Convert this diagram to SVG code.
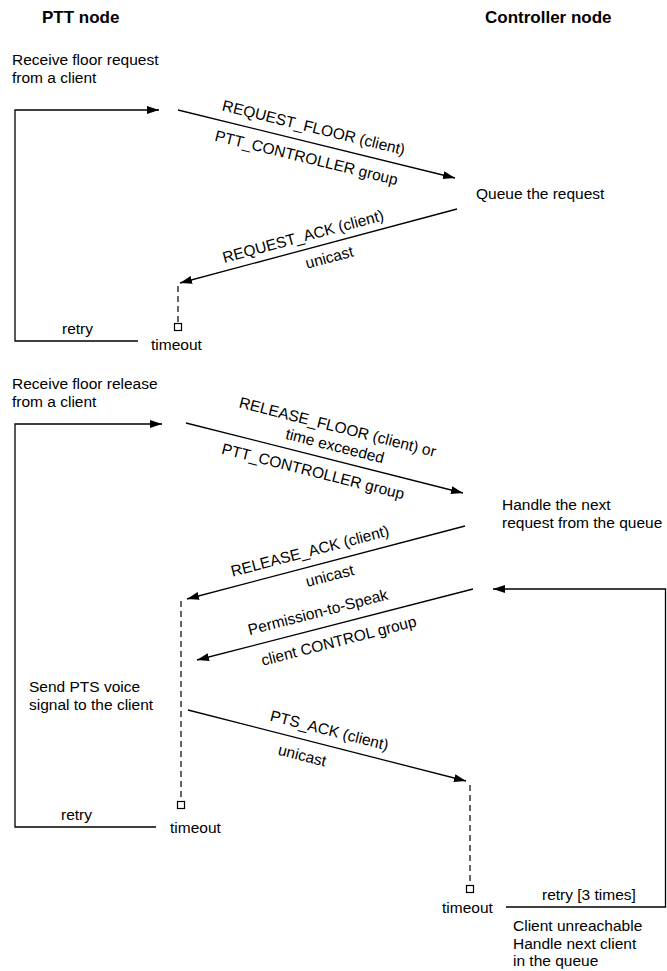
<svg xmlns="http://www.w3.org/2000/svg" width="667" height="971" viewBox="0 0 667 971">
  <defs>
    <marker id="arrow" markerUnits="userSpaceOnUse" markerWidth="13" markerHeight="9" refX="12" refY="4" orient="auto">
      <path d="M0,0 L12,4 L0,8 z" fill="#000"/>
    </marker>
    <style>
      text { font-family: "Liberation Sans", Arial, sans-serif; font-size: 15.5px; fill: #000; }
      .head { font-weight: bold; font-size: 17px; }
      .lbl { text-anchor: middle; }
      .msg { stroke: #000; stroke-width: 1.3; fill: none; marker-end: url(#arrow); }
      .loop { stroke: #000; stroke-width: 1.3; fill: none; }
      .wait { stroke: #000; stroke-width: 1.2; stroke-dasharray: 6 4; fill: none; }
      .tmr { stroke: #000; stroke-width: 1.2; fill: #fff; }
    </style>
  </defs>
  <rect width="667" height="971" fill="#fff"/>

  <!-- column headings -->
  <g id="ptt-node"><text class="head" x="42" y="23">PTT node</text></g>
  <g id="controller-node"><text class="head" x="485" y="23">Controller node</text></g>

  <!-- step descriptions -->
  <g id="receive-request">
    <text x="12" y="65">Receive floor request</text>
    <text x="12" y="83">from a client</text>
  </g>
  <g id="queue-request"><text x="476" y="199">Queue the request</text></g>
  <g id="timeout-1">
    <rect class="tmr" x="174.5" y="323.5" width="7" height="7"/>
    <text x="151" y="350">timeout</text>
  </g>

  <g id="receive-release">
    <text x="12" y="389">Receive floor release</text>
    <text x="12" y="407">from a client</text>
  </g>
  <g id="handle-next">
    <text x="502" y="510">Handle the next</text>
    <text x="502" y="528">request from the queue</text>
  </g>
  <g id="send-pts">
    <text x="29" y="692">Send PTS voice</text>
    <text x="29" y="710">signal to the client</text>
  </g>
  <g id="timeout-2">
    <rect class="tmr" x="177.5" y="801.5" width="7" height="7"/>
    <text x="170" y="833">timeout</text>
  </g>
  <g id="timeout-3">
    <rect class="tmr" x="466.5" y="885.5" width="7" height="7"/>
    <text x="442" y="913">timeout</text>
  </g>
  <g id="client-unreachable">
    <text x="513" y="931">Client unreachable</text>
    <text x="513" y="949">Handle next client</text>
    <text x="513" y="966">in the queue</text>
  </g>

  <g id="connectors">
    <!-- retry loops -->
    <path class="loop" d="M138,341 H15 V110 H159" marker-end="url(#arrow)"/>
    <text x="62" y="334">retry</text>
    <path class="loop" d="M156,827 H15 V424 H162" marker-end="url(#arrow)"/>
    <text x="61" y="820">retry</text>
    <path class="loop" d="M506,907 H665.5 V589 H493" marker-end="url(#arrow)"/>
    <text x="542" y="900">retry [3 times]</text>

    <!-- waiting periods -->
    <path class="wait" d="M178,286 V323.5"/>
    <path class="wait" d="M181,601 V801.5"/>
    <path class="wait" d="M470,785 V885.5"/>

    <!-- REQUEST_FLOOR -->
    <line class="msg" x1="178" y1="110" x2="455" y2="178"/>
    <g transform="translate(178,110) rotate(13.79)">
      <text class="lbl" x="136" y="-10">REQUEST_FLOOR (client)</text>
      <text class="lbl" x="136" y="21">PTT_CONTROLLER group</text>
    </g>

    <!-- REQUEST_ACK -->
    <line class="msg" x1="457" y1="209" x2="180" y2="283"/>
    <g transform="translate(180,283) rotate(-14.96)">
      <text class="lbl" x="131" y="-8">REQUEST_ACK (client)</text>
      <text class="lbl" x="151" y="19">unicast</text>
    </g>

    <!-- RELEASE_FLOOR -->
    <line class="msg" x1="186" y1="423" x2="463" y2="493"/>
    <g transform="translate(186,423) rotate(14.18)">
      <text class="lbl" x="148" y="-28">RELEASE_FLOOR (client) or</text>
      <text class="lbl" x="150" y="-9">time exceeded</text>
      <text class="lbl" x="135" y="21">PTT_CONTROLLER group</text>
    </g>

    <!-- RELEASE_ACK -->
    <line class="msg" x1="465" y1="526" x2="187" y2="599"/>
    <g transform="translate(187,599) rotate(-14.71)">
      <text class="lbl" x="131" y="-10">RELEASE_ACK (client)</text>
      <text class="lbl" x="144" y="19">unicast</text>
    </g>

    <!-- Permission-to-Speak -->
    <line class="msg" x1="473" y1="589" x2="197" y2="660"/>
    <g transform="translate(197,660) rotate(-14.43)">
      <text class="lbl" x="129" y="-11">Permission-to-Speak</text>
      <text class="lbl" x="142" y="22">client CONTROL group</text>
    </g>

    <!-- PTS_ACK -->
    <line class="msg" x1="188" y1="710" x2="466" y2="781"/>
    <g transform="translate(188,710) rotate(14.33)">
      <text class="lbl" x="142" y="-10">PTS_ACK (client)</text>
      <text class="lbl" x="122" y="21">unicast</text>
    </g>
  </g>
</svg>
